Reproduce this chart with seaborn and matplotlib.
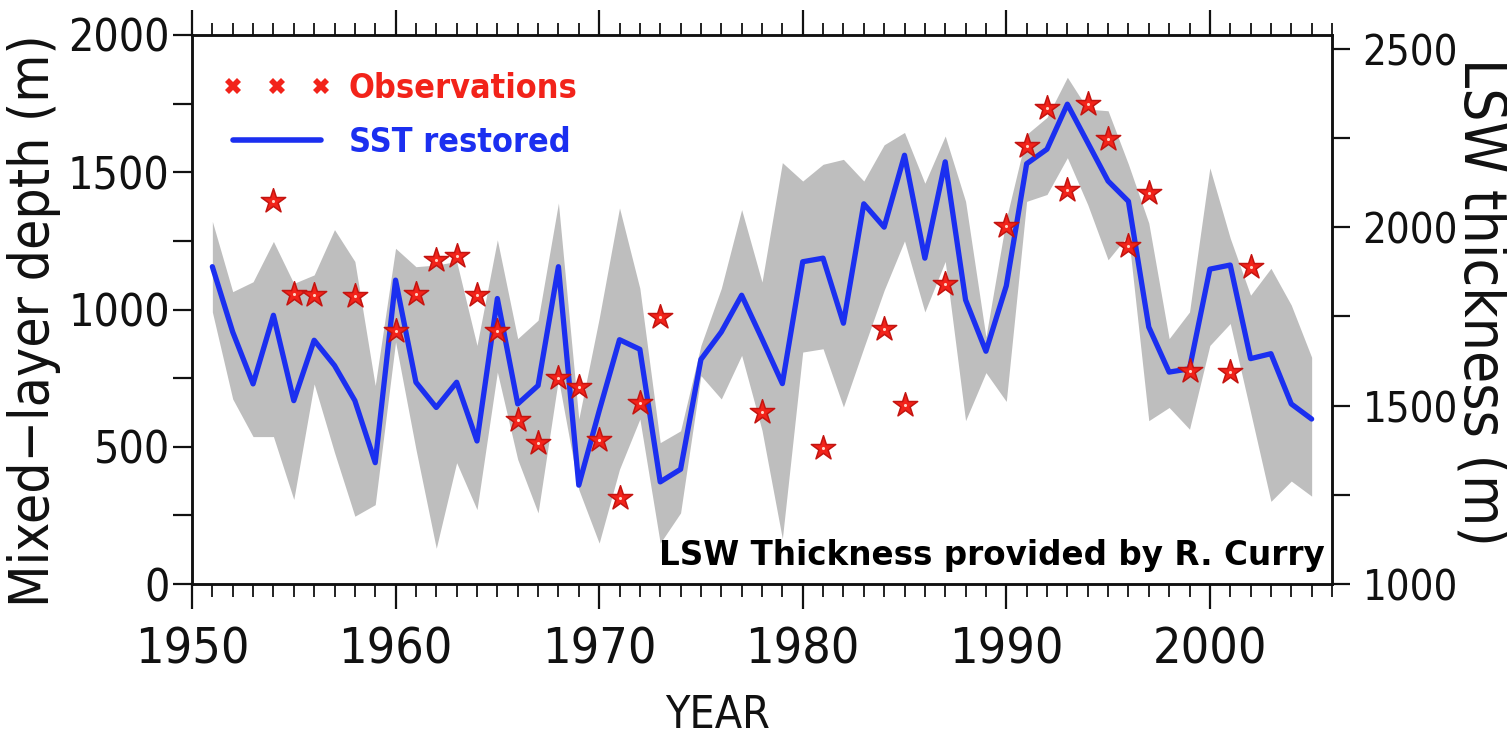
import matplotlib
matplotlib.use("Agg")
import matplotlib.pyplot as plt
import seaborn as sns
import numpy as np
import pandas as pd
from matplotlib.lines import Line2D
from matplotlib.ticker import MultipleLocator, FixedLocator

# ---- data ---------------------------------------------------------------
years = list(range(1951, 2006))

# modelled mixed-layer depth (m), SST-restored run
sst_restored = [1156, 918, 729, 979, 668, 888, 796, 668, 442, 1107,
                735, 643, 735, 521, 1040, 656, 723, 1156, 360, 630,
                890, 855, 372, 418, 818, 918, 1052, 893, 730, 1174,
                1187, 950, 1385, 1300, 1562, 1187, 1538, 1035, 848, 1086,
                1531, 1584, 1748, 1608, 1468, 1394, 936, 772, 784, 1147,
                1162, 821, 839, 656, 601]

# ensemble spread around the SST-restored run
spread_upper = [1321, 1065, 1101, 1248, 1095, 1126, 1291, 1175, 723, 1223,
                1156, 1162, 1175, 869, 1254, 894, 961, 1388, 601, 967,
                1370, 1077, 515, 558, 869, 1077, 1364, 1100, 1535, 1468,
                1529, 1547, 1468, 1600, 1645, 1460, 1632, 1394, 900, 1330,
                1638, 1700, 1846, 1730, 1724, 1529, 1315, 894, 991, 1516,
                1260, 1052, 1150, 1016, 826]
spread_lower = [991, 674, 537, 537, 308, 729, 479, 247, 289, 882,
                491, 130, 442, 271, 772, 454, 259, 747, 344, 149,
                418, 601, 149, 259, 759, 674, 833, 560, 165, 845,
                857, 645, 860, 1070, 1250, 991, 1175, 595, 770, 665,
                1394, 1419, 1553, 1382, 1181, 1272, 595, 643, 564, 869,
                949, 626, 301, 375, 320]

# observed LSW thickness (m)
obs_years = [1954, 1955, 1956, 1958, 1960, 1961, 1962, 1963, 1964, 1965,
             1966, 1967, 1968, 1969, 1970, 1971, 1972, 1973, 1978, 1981,
             1984, 1985, 1987, 1990, 1991, 1992, 1993, 1994, 1995, 1996,
             1997, 1999, 2001, 2002]
obs_thickness = [2073, 1812, 1809, 1807, 1709, 1812, 1907, 1919, 1809, 1709,
                 1459, 1395, 1577, 1552, 1404, 1241, 1508, 1749, 1482, 1381,
                 1715, 1503, 1840, 2004, 2228, 2333, 2105, 2346, 2247, 1948,
                 2097, 1597, 1593, 1889]

left_ticks = [0, 500, 1000, 1500, 2000]
right_ticks = [1000, 1500, 2000, 2500]
year_ticks = [1950, 1960, 1970, 1980, 1990, 2000]

model = pd.DataFrame({"year": years, "mld": sst_restored,
                      "lo": spread_lower, "hi": spread_upper})
obs = pd.DataFrame({"year": obs_years, "thickness": obs_thickness})

# ---- style --------------------------------------------------------------
sns.set_theme(style="ticks")
plt.rcParams["font.family"] = ["DejaVu Sans"]
plt.rcParams["font.weight"] = "light"
plt.rcParams["font.stretch"] = "condensed"
plt.rcParams["axes.linewidth"] = 1.8

RED = "#f2231a"
BLUE = "#1b2ff0"
GREY = "#bebebe"
INK = "#111111"

W, H = 1507, 738
fig = plt.figure(figsize=(W / 100, H / 100), dpi=100)
ax = fig.add_axes([192 / W, 1 - 584 / H, 1140 / W, 549 / H])

ax.fill_between(model["year"], model["lo"], model["hi"], color=GREY, lw=0, zorder=1)
sns.lineplot(data=model, x="year", y="mld", ax=ax, color=BLUE, lw=3.8,
             zorder=3, legend=False)

ax.set_xlim(1950, 2006)
ax.set_ylim(0, 2000)
ax.xaxis.set_major_locator(FixedLocator(year_ticks))
ax.xaxis.set_minor_locator(MultipleLocator(1))
ax.yaxis.set_major_locator(FixedLocator(left_ticks))
ax.yaxis.set_minor_locator(MultipleLocator(250))

ax.tick_params(axis="x", which="major", direction="out", length=18, width=1.6,
               top=True, labelsize=36, pad=12, colors=INK)
ax.tick_params(axis="x", which="minor", direction="out", length=9, width=1.3,
               top=True, colors=INK)
ax.tick_params(axis="y", which="both", direction="out", length=14, width=1.6,
               right=False, labelsize=32, pad=2, colors=INK)

ax.set_xlabel("YEAR", fontsize=32, color=INK, va="center", ha="center")
ax.xaxis.set_label_coords(0.461, -0.239)
ax.set_ylabel("Mixed\u2212layer depth (m)", fontsize=39.5, color=INK,
              va="center", ha="center")
ax.yaxis.set_label_coords(-0.139, 0.48)

# right-hand axis: LSW thickness
ax2 = ax.twinx()
sns.scatterplot(data=obs, x="year", y="thickness", ax=ax2, marker="*", s=340,
                color=RED, edgecolor="#c41410", linewidth=1.1, zorder=5,
                legend=False)
ax2.scatter(obs["year"], obs["thickness"], s=5, color="#ffd2c4", lw=0, zorder=6)
ax2.set_ylim(1000, 2539)
ax2.yaxis.set_major_locator(FixedLocator(right_ticks))
ax2.yaxis.set_minor_locator(FixedLocator([1250, 1750, 2250]))
ax2.tick_params(axis="y", which="both", direction="out", length=13, width=1.6,
                labelsize=30, pad=9, colors=INK)
ax2.set_ylabel("LSW thickness (m)", fontsize=42, color=INK, rotation=270,
               va="center", ha="center")
ax2.yaxis.set_label_coords(1.131, 0.514)
ax2.set_xlabel("")

for a in (ax, ax2):
    for s in a.spines.values():
        s.set_color(INK)
        s.set_linewidth(1.8)

ax2.text(0.994, 0.022, "LSW Thickness provided by R. Curry",
         transform=ax2.transAxes, ha="right", va="bottom",
         fontsize=23.5, fontweight="bold", fontstretch="normal",
         color="black", zorder=7)

handles = [
    Line2D([], [], ls="none", marker="X", ms=11, color=RED, markeredgewidth=0),
    Line2D([], [], color=BLUE, lw=4),
]
leg = ax2.legend(handles, ["Observations", "SST restored"], loc="upper left",
                 bbox_to_anchor=(0.027, 0.933), numpoints=3, frameon=False,
                 prop={"weight": "bold", "size": 24.5},
                 handlelength=3.2, handletextpad=0.5, labelspacing=0.62,
                 borderpad=0, borderaxespad=0)
for t, c in zip(leg.get_texts(), [RED, BLUE]):
    t.set_color(c)

fig.savefig("out.png", dpi=100)
